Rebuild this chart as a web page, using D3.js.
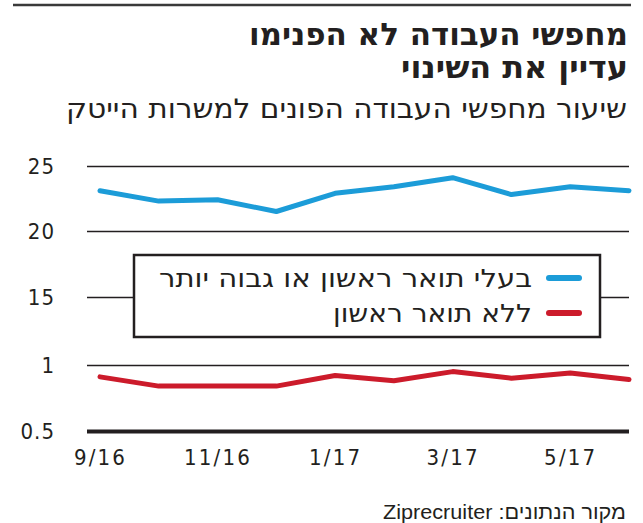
<!DOCTYPE html>
<html>
<head>
<meta charset="utf-8">
<script src="https://cdn.jsdelivr.net/npm/d3@7"></script>
<style>
  body { margin: 0; background: #fff; }
  svg { display: block; }
  .he { direction: rtl; }
</style>
</head>
<body>
<svg width="643" height="523"></svg>
<script>
// months on the x axis
const months = ["9/16", "10/16", "11/16", "12/16", "1/17", "2/17", "3/17", "4/17", "5/17", "6/17"];
const xTickLabels = ["9/16", "11/16", "1/17", "3/17", "5/17"];

// share of job seekers applying to hi-tech jobs
const degreeValues = [23.1, 22.3, 22.4, 21.5, 22.9, 23.4, 24.1, 22.8, 23.4, 23.1];
const noDegreeValues = [0.91, 0.84, 0.84, 0.84, 0.92, 0.88, 0.95, 0.90, 0.94, 0.89];

// broken y axis
const yTicks = [0.5, 1, 15, 20, 25];

const seriesNames = ["בעלי תואר ראשון או גבוה יותר", "ללא תואר ראשון"];
const seriesColors = ["#1c9cd8", "#cc1b2b"];

const svg = d3.select("svg");
const left = 87, right = 629;

const x = d3.scalePoint().domain(months).range([100, 629]);
// piecewise scale so the small values get their own band
const y = d3.scaleLinear().domain(yTicks).range([431, 365, 297, 231, 166]);

// top rule
svg.append("line")
    .attr("x1", 13).attr("x2", 631)
    .attr("y1", 5).attr("y2", 5)
    .attr("stroke", "#3a3a3a").attr("stroke-width", 2.5);

// titles (stretched to the width of the original lettering)
const heFont = "'DejaVu Sans Condensed', 'DejaVu Sans', sans-serif";
function heText(str, xr, yb, size, width, bold) {
    return svg.append("text").attr("class", "he")
        .attr("x", xr).attr("y", yb)
        .attr("font-family", heFont)
        .attr("font-weight", bold ? "bold" : "normal")
        .attr("font-size", size)
        .attr("textLength", width)
        .attr("lengthAdjust", "spacingAndGlyphs")
        .attr("fill", "#231f20")
        .text(str);
}
heText("מחפשי העבודה לא הפנימו", 628, 45, 31, 379, true);
heText("עדיין את השינוי", 628, 78, 31, 227, true);
heText("שיעור מחפשי העבודה הפונים למשרות הייטק", 627, 118, 27, 561, false);

// y axis with gridlines
const yAxis = svg.append("g")
    .attr("transform", `translate(${left},0)`)
    .call(d3.axisLeft(y).tickValues(yTicks).tickSize(-(right - left)).tickPadding(32)
        .tickFormat(d => String(d)));
yAxis.select(".domain").remove();
yAxis.selectAll(".tick line")
    .attr("stroke", "#231f20")
    .attr("stroke-width", d => d === 0.5 ? 4 : 1.3);
yAxis.selectAll(".tick text")
    .attr("font-family", "'DejaVu Sans Condensed', sans-serif")
    .attr("font-size", 22)
    .attr("letter-spacing", 1)
    .attr("fill", "#231f20");

// x axis labels
const xAxis = svg.append("g")
    .attr("transform", `translate(0,${y(0.5)})`)
    .call(d3.axisBottom(x).tickValues(xTickLabels).tickSize(0).tickPadding(18));
xAxis.select(".domain").remove();
xAxis.selectAll(".tick text")
    .attr("font-family", "'DejaVu Sans Condensed', sans-serif")
    .attr("font-size", 22)
    .attr("letter-spacing", 2.2)
    .attr("fill", "#231f20");

// lines
const line = d3.line()
    .x((d, i) => x(months[i]))
    .y(d => y(d));

[degreeValues, noDegreeValues].forEach((vals, i) => {
    svg.append("path")
        .datum(vals)
        .attr("d", line)
        .attr("fill", "none")
        .attr("stroke", seriesColors[i])
        .attr("stroke-width", 5)
        .attr("stroke-linejoin", "round")
        .attr("stroke-linecap", "round");
});

// legend
const legend = svg.append("g");
legend.append("rect")
    .attr("x", 134).attr("y", 255)
    .attr("width", 466).attr("height", 82)
    .attr("fill", "#fff")
    .attr("stroke", "#231f20").attr("stroke-width", 2.5);

const legendWidths = [373, 199];
seriesNames.forEach((name, i) => {
    const cy = 278 + i * 35;
    legend.append("line")
        .attr("x1", 549).attr("x2", 579)
        .attr("y1", cy).attr("y2", cy)
        .attr("stroke", seriesColors[i])
        .attr("stroke-width", 6)
        .attr("stroke-linecap", "round");
    legend.append("text").attr("class", "he")
        .attr("x", 532).attr("y", cy)
        .attr("dy", "0.36em")
        .attr("font-family", heFont).attr("font-size", 25)
        .attr("textLength", legendWidths[i])
        .attr("lengthAdjust", "spacingAndGlyphs")
        .attr("fill", "#231f20")
        .text(name);
});

// source
svg.append("text").attr("class", "he")
    .attr("x", 626).attr("y", 519)
    .attr("font-family", "'Liberation Sans', Arial, sans-serif").attr("font-size", 20)
    .attr("textLength", 243)
    .attr("lengthAdjust", "spacingAndGlyphs")
    .attr("fill", "#231f20")
    .text("מקור הנתונים: Ziprecruiter");
</script>
</body>
</html>
